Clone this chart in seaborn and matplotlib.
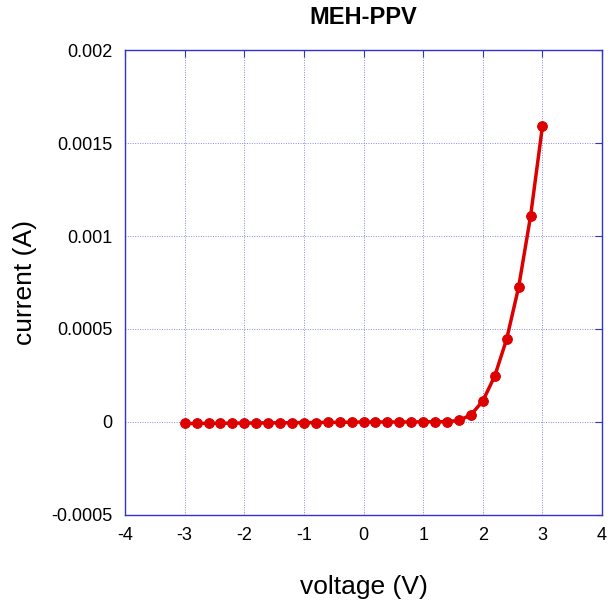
import numpy as np
import seaborn as sns
import matplotlib.pyplot as plt

voltage = [-3.0, -2.8, -2.6, -2.4, -2.2, -2.0, -1.8, -1.6, -1.4, -1.2, -1.0,
           -0.8, -0.6, -0.4, -0.2, 0.0, 0.2, 0.4, 0.6, 0.8, 1.0, 1.2, 1.4,
           1.6, 1.8, 2.0, 2.2, 2.4, 2.6, 2.8, 3.0]
current = [-8e-6, -8e-6, -7e-6, -7e-6, -6e-6, -6e-6, -5e-6, -5e-6, -4e-6, -4e-6, -3e-6,
           -3e-6, -2e-6, -2e-6, -1e-6, 0.0, 0.0, 0.0, 0.0, 0.0, 1e-6, 1e-6, 2e-6,
           8e-6, 3.8e-5, 1.13e-4, 2.47e-4, 4.46e-4, 7.24e-4, 1.105e-3, 1.59e-3]

sns.set_style("white")
plt.rcParams['font.family'] = ['Liberation Sans', 'DejaVu Sans']
plt.rcParams['axes.unicode_minus'] = False
plt.rcParams['text.color'] = 'black'
plt.rcParams['axes.labelcolor'] = 'black'
plt.rcParams['xtick.labelcolor'] = 'black'
plt.rcParams['ytick.labelcolor'] = 'black'

fig = plt.figure(figsize=(6.1, 6.03), dpi=100)
ax = fig.add_axes([0.205, 0.146, 0.782, 0.771])

sns.lineplot(x=voltage, y=current, ax=ax, color='#dd0000', linewidth=2.5,
             marker='o', markersize=7, markeredgecolor='#dd0000')

ax.set_xlim(-4, 4)
ax.set_ylim(-0.0005, 0.002)
ax.set_xticks(np.arange(-4, 5, 1))
ax.set_yticks([-0.0005, 0, 0.0005, 0.001, 0.0015, 0.002])
ax.set_yticklabels(['-0.0005', '0', '0.0005', '0.001', '0.0015', '0.002'])
ax.grid(True, color='#8888ee', linestyle=(0, (1, 1.5)), linewidth=0.7)
for s in ax.spines.values():
    s.set_color('#3333cc')
    s.set_linewidth(1.0)
ax.tick_params(direction='in', length=5, color='#3333cc', labelsize=13,
               top=True, right=True, pad=9)

ax.set_xlabel('voltage (V)', fontsize=19, labelpad=22)
ax.set_ylabel('current (A)', fontsize=19, labelpad=10)
ax.set_title('MEH-PPV', fontsize=17, fontweight='bold', pad=19)

fig.savefig('out.png', dpi=100)
